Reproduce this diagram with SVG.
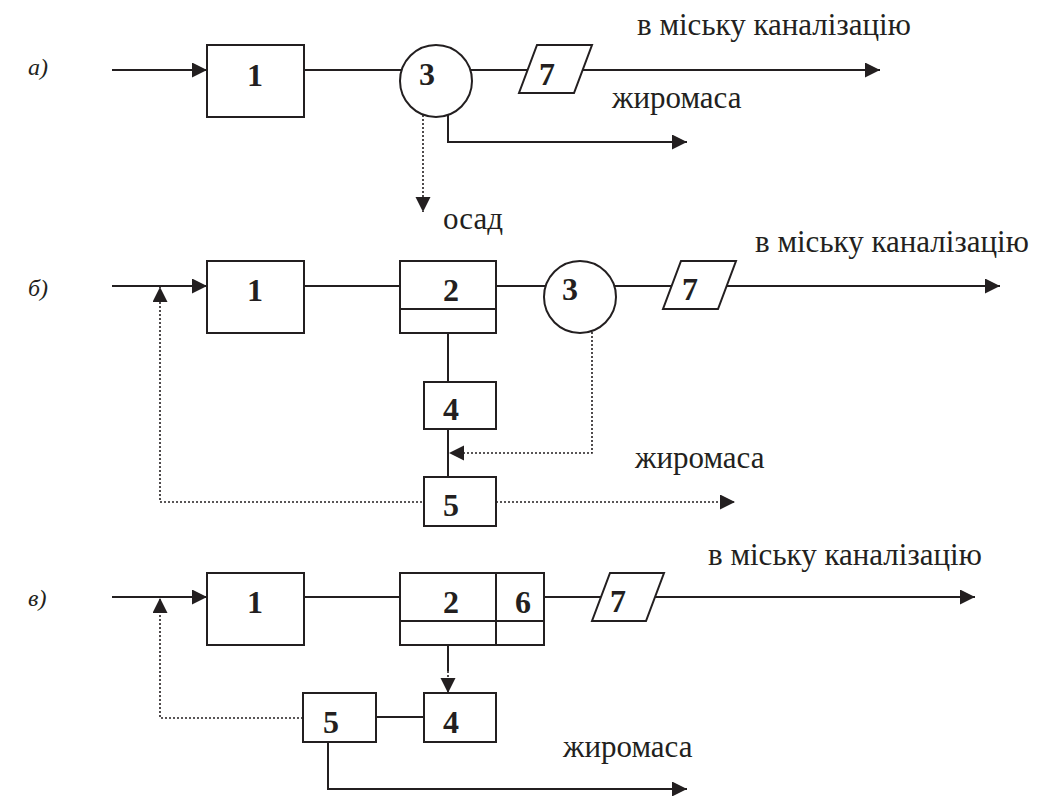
<svg xmlns="http://www.w3.org/2000/svg" width="1040" height="796" viewBox="0 0 1040 796" font-family="Liberation Serif, Times New Roman, DejaVu Serif, serif">
<style>
.box{fill:#fff;stroke:#231f20;stroke-width:2}
.ln{fill:none;stroke:#231f20;stroke-width:2}
.dot{fill:none;stroke:#231f20;stroke-width:1.6;stroke-dasharray:2 2}
.num{font-weight:bold;font-size:32px;fill:#231f20;text-anchor:middle}
.lbl{font-size:31px;fill:#231f20}
.sec{font-style:italic;font-size:24px;fill:#231f20}
</style>
<defs>
<marker id="arr" markerUnits="userSpaceOnUse" markerWidth="16" markerHeight="16" refX="15" refY="7.5" orient="auto">
<path d="M0,0 L15,7.5 L0,15 z" fill="#231f20"/>
</marker>
</defs>
<rect width="1040" height="796" fill="#fff"/>

<g id="connectors">
<path class="ln" d="M112,70 H207" marker-end="url(#arr)"/>
<path class="ln" d="M304,70 H402"/>
<path class="ln" d="M470,70 H527"/>
<path class="ln" d="M567,70 H880" marker-end="url(#arr)"/>
<path class="dot" d="M423,115 V212" marker-end="url(#arr)"/>
<path class="ln" d="M448,115 V142 H687" marker-end="url(#arr)"/>
<path class="ln" d="M112,286 H207" marker-end="url(#arr)"/>
<path class="dot" d="M422,502 H160 V287" marker-end="url(#arr)"/>
<path class="ln" d="M304,286 H400"/>
<path class="ln" d="M496,286 H546"/>
<path class="ln" d="M614,286 H671"/>
<path class="ln" d="M712,286 H1000" marker-end="url(#arr)"/>
<path class="ln" d="M448,333 V382"/>
<path class="ln" d="M448,429 V477"/>
<path class="dot" d="M592,332 V453 H449" marker-end="url(#arr)"/>
<path class="dot" d="M496,502 H735" marker-end="url(#arr)"/>
<path class="ln" d="M112,597 H207" marker-end="url(#arr)"/>
<path class="dot" d="M303,718 H160 V598" marker-end="url(#arr)"/>
<path class="ln" d="M304,597 H400"/>
<path class="ln" d="M448,645 V671"/>
<path class="dot" d="M448,671 V693" marker-end="url(#arr)"/>
<path class="ln" d="M376,717 H424"/>
<path class="ln" d="M328,742 V789 H687" marker-end="url(#arr)"/>
<path class="ln" d="M544,597 H601"/>
<path class="ln" d="M639,597 H975" marker-end="url(#arr)"/>
</g>

<g id="label-a"><text class="sec" x="28" y="75">а)</text></g>
<g id="a1"><rect class="box" x="207" y="45" width="97" height="72"/><text class="num" x="255" y="86">1</text></g>
<g id="a3"><circle class="box" cx="436" cy="81" r="36"/><text class="num" x="427" y="85">3</text></g>
<g id="a7"><polygon class="box" points="537,45 592,45 574,93 519,93"/><text class="num" x="547" y="85">7</text></g>
<g id="a-texts">
<text class="lbl" x="637" y="35">в міську каналізацію</text>
<text class="lbl" x="612" y="108">жиромаса</text>
<text class="lbl" x="443" y="229">осад</text>
</g>

<g id="label-b"><text class="sec" x="28" y="296">б)</text></g>
<g id="b1"><rect class="box" x="207" y="261" width="97" height="72"/><text class="num" x="255" y="301">1</text></g>
<g id="b2"><rect class="box" x="400" y="261" width="96" height="72"/><path class="ln" d="M400,309 H496"/><text class="num" x="451" y="301">2</text></g>
<g id="b3"><circle class="box" cx="580" cy="297" r="36"/><text class="num" x="570" y="300">3</text></g>
<g id="b7"><polygon class="box" points="681,261 736,261 718,309 663,309"/><text class="num" x="690" y="300">7</text></g>
<g id="b4"><rect class="box" x="424" y="382" width="72" height="47"/><text class="num" x="451" y="420">4</text></g>
<g id="b5"><rect class="box" x="424" y="477" width="72" height="49"/><text class="num" x="451" y="516">5</text></g>
<g id="b-texts">
<text class="lbl" x="755" y="252">в міську каналізацію</text>
<text class="lbl" x="635" y="468">жиромаса</text>
</g>

<g id="label-c"><text class="sec" x="28" y="606">в)</text></g>
<g id="c1"><rect class="box" x="207" y="573" width="97" height="72"/><text class="num" x="255" y="613">1</text></g>
<g id="c26"><rect class="box" x="400" y="573" width="144" height="72"/><path class="ln" d="M496,573 V645 M400,621 H544"/><text class="num" x="451" y="613">2</text><text class="num" x="523" y="613">6</text></g>
<g id="c7"><polygon class="box" points="610,573 664,573 646,621 592,621"/><text class="num" x="618" y="612">7</text></g>
<g id="c4"><rect class="box" x="424" y="693" width="72" height="49"/><text class="num" x="451" y="733">4</text></g>
<g id="c5"><rect class="box" x="303" y="693" width="73" height="49"/><text class="num" x="331" y="733">5</text></g>
<g id="c-texts">
<text class="lbl" x="708" y="565">в міську каналізацію</text>
<text class="lbl" x="563" y="757">жиромаса</text>
</g>
</svg>
